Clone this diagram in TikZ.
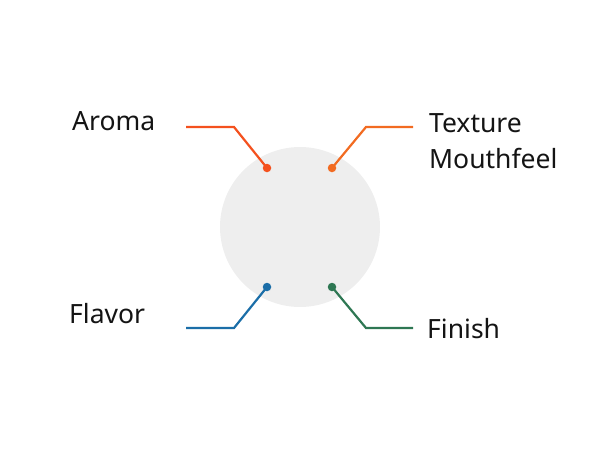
\documentclass[tikz,border=0pt]{standalone}
\usepackage{fontspec}
\setmainfont{Noto Sans}
\definecolor{cAroma}{HTML}{F4511E}
\definecolor{cTexture}{HTML}{F26B21}
\definecolor{cFlavor}{HTML}{1B6EA8}
\definecolor{cFinish}{HTML}{2E7753}
\definecolor{cCircle}{HTML}{EEEEEE}
\begin{document}
\begin{tikzpicture}[x=1pt,y=-1pt,
  lbl/.style={inner sep=0pt,anchor=base west,font=\fontsize{26.5}{36}\selectfont,text=black!92},
  dotmark/.style={circle,inner sep=0pt,minimum size=8.5pt},
  lead/.style={line width=2.2pt}]
\useasboundingbox (0,0) rectangle (600,450);
\fill[cCircle] (300,227) circle (80);
\node[dotmark,fill=cAroma] (dA) at (267,168) {};
\node[dotmark,fill=cTexture] (dT) at (332,168) {};
\node[dotmark,fill=cFlavor] (dF) at (267,287) {};
\node[dotmark,fill=cFinish] (dN) at (332,287) {};
\coordinate (kA) at (234,127);
\coordinate (eA) at (186,127);
\coordinate (kT) at (366,127);
\coordinate (eT) at (413,127);
\coordinate (kF) at (234,328);
\coordinate (eF) at (186,328);
\coordinate (kN) at (366,328);
\coordinate (eN) at (413,328);
\draw[lead,cAroma] (dA.center) -- (kA) -- (eA);
\draw[lead,cTexture] (dT.center) -- (kT) -- (eT);
\draw[lead,cFlavor] (dF.center) -- (kF) -- (eF);
\draw[lead,cFinish] (dN.center) -- (kN) -- (eN);
\node[lbl] (tA) at (72,130) {Aroma};
\node[lbl] (tT) at (429,132) {Texture};
\node[lbl] (tM) at (429,168) {Mouthfeel};
\node[lbl] (tF) at (69,323) {Flavor};
\node[lbl] (tN) at (427,338) {Finish};
\end{tikzpicture}
\end{document}
